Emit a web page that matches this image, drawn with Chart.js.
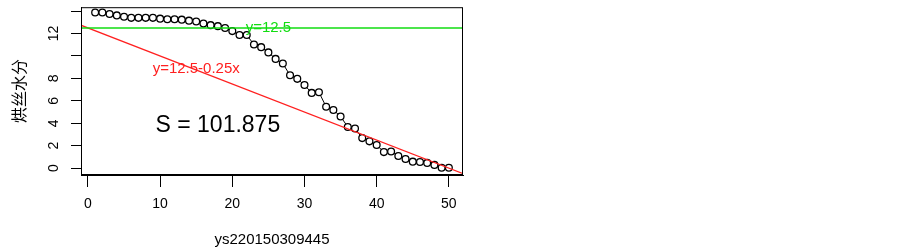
<!DOCTYPE html>
<html>
<head>
<meta charset="utf-8">
<script src="https://cdn.jsdelivr.net/npm/chart.js@4"></script>
<style>
  body { margin: 0; background: #fff; }
  #wrap { width: 903px; height: 250px; }
</style>
</head>
<body>
<div id="wrap"><canvas id="chart" width="903" height="250"></canvas></div>
<script>
// moisture readings, index 1..50
let xValues = [];
for (let i = 1; i <= 50; i++) xValues.push(i);
let moisture = [13.88, 13.88, 13.74, 13.62, 13.5, 13.4, 13.4, 13.4, 13.4, 13.33,
                13.27, 13.27, 13.24, 13.15, 13.07, 12.89, 12.75, 12.66, 12.5, 12.22,
                11.87, 11.87, 11.02, 10.79, 10.32, 9.74, 9.33, 8.28, 7.96, 7.41,
                6.71, 6.77, 5.48, 5.19, 4.61, 3.67, 3.53, 2.68, 2.39, 2.07,
                1.43, 1.49, 1.08, 0.81, 0.58, 0.55, 0.47, 0.29, 0.03, 0.03];

// reference lines (y=12.5 and y=12.5-0.25x), end points
let greenLineX = [-2, 54];
let greenLineY = [12.5, 12.5];
let redLineX = [-2, 54];
let redLineY = [13, -1];

let xTicks = [0, 10, 20, 30, 40, 50];
let yTicks = [0, 2, 4, 6, 8, 10, 12, 14];
let yTickLabels = ['0', '2', '4', '6', '8', '', '12', ''];

// text placed inside the plot
let noteText = ['y=12.5', 'y=12.5-0.25x', 'S = 101.875'];
let noteX = [25, 15, 18];
let noteY = [12.5, 8.85, 3.8];
let noteColor = ['#11dd11', '#ff2020', '#000000'];
let noteFont = ['15px "Liberation Sans"', '15px "Liberation Sans"', '23px "Liberation Sans"'];

function toPoints(xs, ys) {
    return xs.map((x, i) => ({ x: x, y: ys[i] }));
}

// draws the box, rotated y tick labels and the notes
const extras = {
    id: 'extras',
    afterDraw(chart) {
        const ctx = chart.ctx;
        const a = chart.chartArea;
        const xs = chart.scales.x;
        const ys = chart.scales.y;
        ctx.save();
        ctx.strokeStyle = '#000';
        ctx.lineWidth = 1;
        ctx.strokeRect(a.left + 0.5, a.top + 0.5, a.right - a.left - 1, a.bottom - a.top - 1);

        ctx.fillStyle = '#000';
        ctx.font = '14px "Liberation Sans"';
        ctx.textAlign = 'center';
        ctx.textBaseline = 'middle';
        yTicks.forEach((v, i) => {
            if (!yTickLabels[i]) return;
            ctx.save();
            ctx.translate(54, ys.getPixelForValue(v));
            ctx.rotate(-Math.PI / 2);
            ctx.fillText(yTickLabels[i], 0, 0);
            ctx.restore();
        });

        ctx.save();
        ctx.font = '16px "Noto Sans CJK SC"';
        ctx.translate(19, (a.top + a.bottom) / 2);
        ctx.rotate(-Math.PI / 2);
        ctx.fillText('烘丝水分', 0, 0);
        ctx.restore();

        noteText.forEach((t, i) => {
            ctx.fillStyle = noteColor[i];
            ctx.font = noteFont[i];
            ctx.fillText(t, xs.getPixelForValue(noteX[i]), ys.getPixelForValue(noteY[i]));
        });
        ctx.restore();
    }
};

new Chart(document.getElementById('chart'), {
    type: 'scatter',
    data: {
        datasets: [{
            data: toPoints(greenLineX, greenLineY),
            showLine: true,
            borderColor: '#11dd11',
            borderWidth: 1.5,
            pointRadius: 0
        }, {
            data: toPoints(redLineX, redLineY),
            showLine: true,
            borderColor: '#ff2020',
            borderWidth: 1.2,
            pointRadius: 0
        }, {
            data: toPoints(xValues, moisture),
            showLine: true,
            borderColor: '#000',
            borderWidth: 1,
            pointRadius: 3.4,
            pointBorderWidth: 1.3,
            pointBorderColor: '#000',
            pointBackgroundColor: '#fff'
        }]
    },
    options: {
        responsive: false,
        animation: false,
        layout: { padding: { left: 0, right: 440, top: 4, bottom: 0 } },
        plugins: { legend: { display: false }, tooltip: { enabled: false } },
        scales: {
            x: {
                type: 'linear',
                min: -0.96,
                max: 51.96,
                afterBuildTicks: s => { s.ticks = xTicks.map(v => ({ value: v })); },
                afterFit: s => { s.height = 75; },
                grid: { drawOnChartArea: false, drawTicks: true, tickLength: 12, color: '#000' },
                border: { display: true, color: '#000' },
                ticks: { color: '#000', padding: 9, maxRotation: 0, font: { family: 'Liberation Sans', size: 14 } },
                title: {
                    display: true,
                    text: 'ys220150309445',
                    color: '#000',
                    font: { family: 'Liberation Sans', size: 15 },
                    padding: { top: 0, bottom: 1 }
                }
            },
            y: {
                type: 'linear',
                min: -0.61,
                max: 14.35,
                afterBuildTicks: s => { s.ticks = yTicks.map(v => ({ value: v })); },
                afterFit: s => { s.width = 81; },
                grid: { drawOnChartArea: false, drawTicks: true, tickLength: 10, color: '#000' },
                border: { display: true, color: '#000' },
                ticks: { callback: () => '', padding: 0 }
            }
        }
    },
    plugins: [extras]
});
</script>
</body>
</html>
